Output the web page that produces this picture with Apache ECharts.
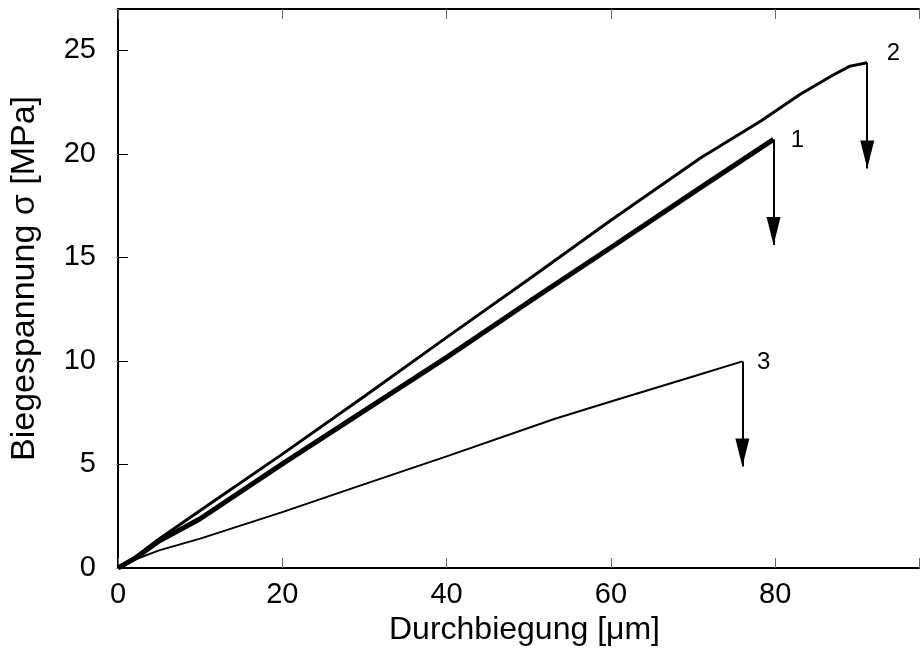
<!DOCTYPE html>
<html style="height: 100%">
<head>
<meta charset="utf-8">
<script src="https://cdn.jsdelivr.net/npm/echarts@6/dist/echarts.min.js"></script>
<style>
  * { margin: 0; padding: 0; }
</style>
</head>
<body style="height: 100%; margin: 0; background: #fff">
<div id="container" style="width: 922px; height: 651px"></div>
<script>
// Durchbiegung [um] / Biegespannung [MPa]
var probe1X = [0, 2, 5, 10, 20, 30, 40, 50, 60, 70.9, 79.8];
var probe1Y = [0, 0.45, 1.3, 2.38, 5.03, 7.6, 10.17, 12.85, 15.48, 18.37, 20.7];

var probe2X = [0, 2, 5, 10, 20, 30, 40, 50, 60, 70.9, 78.3, 83, 87, 89.1, 91.2];
var probe2Y = [0, 0.5, 1.4, 2.78, 5.5, 8.3, 11.14, 13.95, 16.8, 19.8, 21.6, 22.87, 23.8, 24.24, 24.4];

var probe3X = [0, 2, 5, 10, 20, 30, 40, 53.1, 60, 70, 76];
var probe3Y = [0, 0.4, 0.85, 1.42, 2.7, 4.05, 5.39, 7.2, 8.04, 9.25, 9.98];

// arrow from break point down to tip
var arrowTipY = [15.6, 19.3, 4.9];
// curve numbers
var labelText = ['1', '2', '3'];
var labelX = [82.7, 94.4, 78.6];
var labelY = [20.67, 24.86, 9.92];

var xTicks = [0, 20, 40, 60, 80];
var yTicks = [0, 5, 10, 15, 20, 25];

var font = 'Liberation Sans, Arial, sans-serif';

function pairs(xs, ys) {
  var out = [];
  for (var i = 0; i < xs.length; i++) out.push([xs[i], ys[i]]);
  return out;
}

function curve(idx, xs, ys, width) {
  var lastX = xs[xs.length - 1], lastY = ys[ys.length - 1];
  return {
    type: 'line',
    data: pairs(xs, ys),
    symbol: 'none',
    lineStyle: { color: '#000', width: width },
    z: 3,
    markLine: {
      silent: true,
      symbol: ['none', 'triangle'],
      symbolSize: [14, 28],
      symbolOffset: [[0, 0], [0, 14]],
      lineStyle: { color: '#000', width: 2, type: 'solid' },
      label: { show: false },
      data: [[{ coord: [lastX, lastY] }, { coord: [lastX, arrowTipY[idx]] }]]
    },
    markPoint: {
      silent: true,
      symbol: 'circle',
      symbolSize: 1,
      itemStyle: { color: 'rgba(0,0,0,0)' },
      label: {
        show: true, position: 'inside', color: '#000',
        fontFamily: font, fontSize: 24,
        formatter: labelText[idx]
      },
      data: [{ coord: [labelX[idx], labelY[idx]] }]
    }
  };
}

var dom = document.getElementById('container');
var myChart = echarts.init(dom);

var axisLine = { show: true, onZero: false, lineStyle: { color: '#000', width: 2 } };
var innerTick = { show: true, inside: true, length: 10, lineStyle: { color: '#666', width: 1 } };

var option = {
  animation: false,
  backgroundColor: '#fff',
  grid: { left: 115, top: 9, right: 0, bottom: 83 },
  xAxis: [{
    type: 'value', min: 0, max: 97.5, interval: 20,
    name: 'Durchbiegung [\u03bcm]', nameLocation: 'middle', nameGap: 46,
    nameTextStyle: { fontFamily: font, fontSize: 32, color: '#000', padding: [0, 0, 0, 12] },
    axisLine: axisLine,
    axisTick: innerTick,
    axisLabel: {
      color: '#000', fontFamily: font, fontSize: 29, margin: 12,
      formatter: function (v) { return xTicks.indexOf(v) >= 0 ? String(v) : ''; }
    },
    splitLine: { show: false }
  }, {
    type: 'value', position: 'top', min: 0, max: 97.5, interval: 20,
    axisLine: axisLine,
    axisTick: innerTick,
    axisLabel: { show: false },
    splitLine: { show: false }
  }],
  yAxis: [{
    type: 'value', min: 0, max: 27, interval: 5,
    name: 'Biegespannung \u03c3 [MPa]', nameLocation: 'middle', nameGap: 76,
    nameTextStyle: { fontFamily: font, fontSize: 34, color: '#000', padding: [0, 0, 0, 20] },
    axisLine: axisLine,
    axisTick: { show: true, inside: true, length: 10, lineStyle: { color: '#000', width: 1 } },
    axisLabel: {
      color: '#000', fontFamily: font, fontSize: 29, margin: 22,
      showMaxLabel: false,
      formatter: function (v) { return yTicks.indexOf(v) >= 0 ? String(v) : ''; }
    },
    splitLine: { show: false }
  }, {
    type: 'value', position: 'right', min: 0, max: 27, interval: 5,
    axisLine: { show: false },
    axisTick: { show: true, inside: true, length: 2, lineStyle: { color: '#999', width: 1 } },
    axisLabel: { show: false },
    splitLine: { show: false }
  }],
  series: [
    curve(0, probe1X, probe1Y, 5),
    curve(1, probe2X, probe2Y, 3),
    curve(2, probe3X, probe3Y, 2)
  ]
};

myChart.setOption(option);
</script>
</body>
</html>
